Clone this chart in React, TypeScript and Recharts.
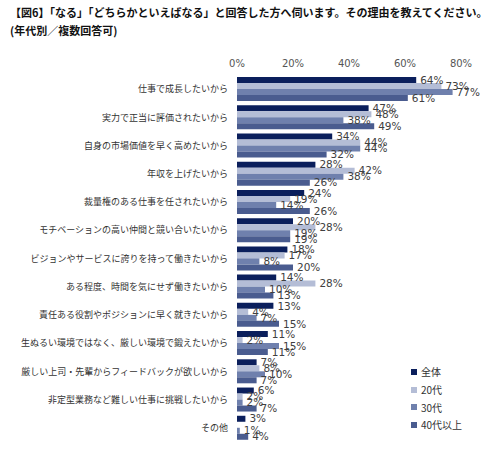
import React from "react";
import { Bar, BarChart, LabelList, XAxis, YAxis } from "recharts";

const categories = [
  "仕事で成長したいから",
  "実力で正当に評価されたいから",
  "自身の市場価値を早く高めたいから",
  "年収を上げたいから",
  "裁量権のある仕事を任されたいから",
  "モチベーションの高い仲間と競い合いたいから",
  "ビジョンやサービスに誇りを持って働きたいから",
  "ある程度、時間を気にせず働きたいから",
  "責任ある役割やポジションに早く就きたいから",
  "生ぬるい環境ではなく、厳しい環境で鍛えたいから",
  "厳しい上司・先輩からフィードバックが欲しいから",
  "非定型業務など難しい仕事に挑戦したいから",
  "その他",
];

const all = [64, 47, 34, 28, 24, 20, 18, 14, 13, 11, 7, 6, 3];
const age20 = [73, 48, 44, 42, 19, 28, 17, 28, 4, 2, 8, 2, 0];
const age30 = [77, 38, 44, 38, 14, 19, 8, 10, 7, 15, 10, 2, 1];
const age40 = [61, 49, 32, 26, 26, 19, 20, 13, 15, 11, 7, 7, 4];

const xTicks = [0, 20, 40, 60, 80];

const series = [
  { key: "all", name: "全体", color: "#0b1f5c" },
  { key: "age20", name: "20代", color: "#b4bdd6" },
  { key: "age30", name: "30代", color: "#6f80ad" },
  { key: "age40", name: "40代以上", color: "#4a5c8f" },
];

const data = categories.map((name, i) => ({
  name,
  all: all[i],
  age20: age20[i],
  age30: age30[i],
  age40: age40[i],
}));

const jp = '"Noto Sans CJK JP", "Noto Sans", sans-serif';
const num = '"DejaVu Sans", Verdana, sans-serif';

// legend sits in the empty lower-right corner, kept out of the chart's layout
function LegendBox() {
  return (
    <div style={{ position: "absolute", left: 411, top: 363, fontFamily: jp, fontSize: 10, color: "#333" }}>
      {series.map((s) => (
        <div key={s.key} style={{ display: "flex", alignItems: "center", height: 17.7 }}>
          <span style={{ width: 6, height: 6, background: s.color, display: "inline-block", marginRight: 4 }} />
          <span>{s.name}</span>
        </div>
      ))}
    </div>
  );
}

export default function App() {
  return (
    <div style={{ position: "absolute", left: 0, top: 0, width: 490, height: 449, background: "#fff" }}>
      <div
        style={{
          position: "absolute",
          left: 10,
          top: 3,
          fontFamily: jp,
          fontWeight: 700,
          fontSize: 11,
          lineHeight: "18px",
          color: "#111",
          whiteSpace: "nowrap",
        }}
      >
        <div>【図6】「なる」「どちらかといえばなる」と回答した方へ伺います。その理由を教えてください。</div>
        <div>(年代別／複数回答可)</div>
      </div>
      <BarChart
        width={490}
        height={449}
        data={data}
        layout="vertical"
        margin={{ top: 55, right: 29, bottom: 7, left: 0 }}
        barCategoryGap={2}
        barGap={0}
      >
        <XAxis
          type="number"
          orientation="top"
          domain={[0, 80]}
          ticks={xTicks}
          tickFormatter={(v) => `${v}%`}
          axisLine={false}
          tickLine={false}
          height={20}
          tick={{ fontSize: 10, fill: "#555", fontFamily: num }}
        />
        <YAxis
          type="category"
          dataKey="name"
          width={237}
          axisLine={false}
          tickLine={false}
          interval={0}
          tickMargin={3}
          tick={{ fontSize: 9, fill: "#333", fontFamily: jp }}
        />
        {series.map((s) => (
          <Bar key={s.key} dataKey={s.key} name={s.name} fill={s.color} isAnimationActive={false}>
            <LabelList
              dataKey={s.key}
              position="right"
              offset={4}
              formatter={(v: number) => `${v}%`}
              style={{ fontSize: 10.5, fill: "#404040", fontFamily: num }}
            />
          </Bar>
        ))}
      </BarChart>
      <LegendBox />
    </div>
  );
}
